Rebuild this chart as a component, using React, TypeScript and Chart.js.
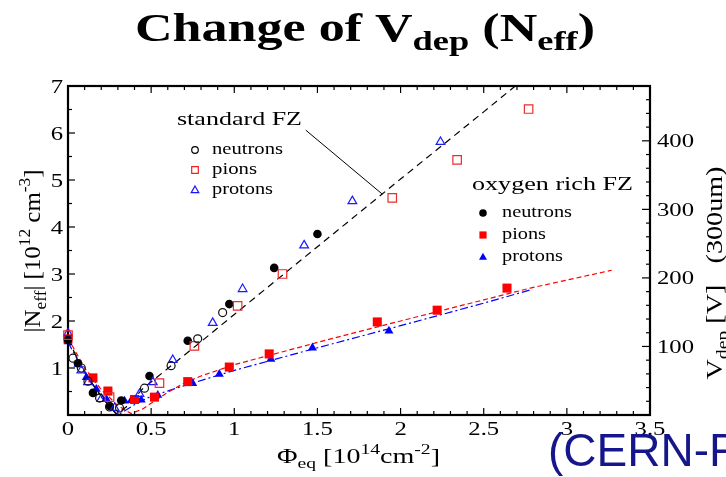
import React, { useEffect, useRef } from 'react';
import { Chart, registerables } from 'chart.js';

Chart.register(...registerables);

const SERIF = '"Liberation Serif", "Times New Roman", serif';
const SANS = '"Liberation Sans", Arial, sans-serif';

// ---- data (Neff in 1e12 cm^-3 vs fluence in 1e14 cm^-2) ----
// standard FZ (open symbols)
const stdNeutronX = [0.03, 0.08, 0.12, 0.19, 0.25, 0.31, 0.46, 0.62, 0.78, 0.93];
const stdNeutronY = [1.21, 1.0, 0.72, 0.36, 0.17, 0.15, 0.57, 1.05, 1.62, 2.18];
const stdPionX = [0, 0.25, 0.55, 0.76, 1.02, 1.29, 1.95, 2.34, 2.77];
const stdPionY = [1.7, 0.38, 0.68, 1.47, 2.32, 3.0, 4.62, 5.43, 6.51];
const stdProtonX = [0, 0.08, 0.12, 0.2, 0.28, 0.43, 0.51, 0.63, 0.87, 1.05, 1.42, 1.71, 2.24];
const stdProtonY = [1.74, 0.95, 0.7, 0.34, 0.15, 0.45, 0.7, 1.17, 1.96, 2.68, 3.61, 4.55, 5.81];
// oxygen rich FZ (filled symbols)
const oxyNeutronX = [0, 0.06, 0.15, 0.25, 0.32, 0.49, 0.72, 0.97, 1.24, 1.5];
const oxyNeutronY = [1.6, 1.1, 0.47, 0.19, 0.31, 0.83, 1.58, 2.36, 3.13, 3.85];
const oxyPionX = [0, 0.15, 0.24, 0.4, 0.52, 0.72, 0.97, 1.21, 1.86, 2.22, 2.64];
const oxyPionY = [1.62, 0.79, 0.51, 0.33, 0.38, 0.71, 1.02, 1.3, 1.98, 2.23, 2.7];
const oxyProtonX = [0, 0.06, 0.11, 0.17, 0.23, 0.34, 0.38, 0.44, 0.54, 0.75, 0.91, 1.22, 1.47, 1.93];
const oxyProtonY = [1.56, 1.08, 0.8, 0.55, 0.34, 0.3, 0.31, 0.32, 0.42, 0.67, 0.87, 1.19, 1.43, 1.79];
// fit curves
const stdFitX = [0, 0.05, 0.1, 0.15, 0.2, 0.25, 0.29, 0.35, 0.45, 0.6, 0.8, 1.0, 1.5, 2.0, 2.5, 2.69];
const stdFitY = [1.62, 1.25, 0.93, 0.65, 0.4, 0.18, 0.02, 0.17, 0.56, 0.99, 1.56, 2.14, 3.58, 5.02, 6.45, 7.0];
const pionFitX = [0, 0.1, 0.2, 0.3, 0.38, 0.45, 0.5, 0.6, 0.7, 0.8, 1.0, 1.58, 2.0, 2.5, 2.78, 3.27];
const pionFitY = [1.64, 1.0, 0.54, 0.2, 0.03, 0.13, 0.25, 0.48, 0.68, 0.83, 1.07, 1.62, 2.0, 2.45, 2.7, 3.08];
const protonFitX = [0, 0.1, 0.2, 0.3, 0.4, 0.5, 0.75, 1.0, 1.5, 2.0, 2.5, 2.78];
const protonFitY = [1.55, 0.9, 0.38, 0.0, 0.22, 0.4, 0.68, 0.95, 1.43, 1.9, 2.38, 2.66];

// axes
const X_MIN = 0, X_MAX = 3.5;
const Y_MIN = 0, Y_MAX = 7;
const V_MIN = 0, V_MAX = 480;
const xTickLabels = ['0', '0.5', '1', '1.5', '2', '2.5', '3', '3.5'];
const yTickLabels = ['1', '2', '3', '4', '5', '6', '7'];
const vTickLabels = ['100', '200', '300', '400'];

// annotation pointer for "standard FZ" (data coords)
const pointerFrom = { x: 1.43, y: 6.06 };
const pointerTo = { x: 1.89, y: 4.7 };

const zip = (xs: number[], ys: number[]) => xs.map((x, i) => ({ x, y: ys[i] }));

type Seg = { t: string; s?: 'sub' | 'sup' };

function drawRich(ctx: CanvasRenderingContext2D, segs: Seg[], o: any) {
  const size = o.size;
  const weight = o.weight || 'normal';
  const family = o.family || SERIF;
  const fontFor = (sg: Seg) => `${weight} ${sg.s ? size * 0.7 : size}px ${family}`;
  ctx.save();
  ctx.translate(o.x, o.y);
  if (o.rot) ctx.rotate(o.rot);
  let w = 0;
  const ws = segs.map((sg) => {
    ctx.font = fontFor(sg);
    const m = ctx.measureText(sg.t).width;
    w += m;
    return m;
  });
  const k = o.width ? o.width / w : o.sx || 1;
  ctx.scale(k, 1);
  let cx = o.align === 'center' ? -w / 2 : o.align === 'right' ? -w : 0;
  ctx.fillStyle = o.color || '#000';
  ctx.textAlign = 'left';
  ctx.textBaseline = 'alphabetic';
  segs.forEach((sg, i) => {
    ctx.font = fontFor(sg);
    const dy = sg.s === 'sub' ? size * (o.subDy || 0.25) : sg.s === 'sup' ? -size * 0.42 : 0;
    ctx.fillText(sg.t, cx, dy);
    cx += ws[i];
  });
  ctx.restore();
}

function symbol(ctx: CanvasRenderingContext2D, kind: string, x: number, y: number, r: number, color: string, filled: boolean) {
  ctx.save();
  ctx.beginPath();
  if (kind === 'circle') ctx.arc(x, y, r, 0, Math.PI * 2);
  else if (kind === 'rect') ctx.rect(x - r, y - r, 2 * r, 2 * r);
  else {
    ctx.moveTo(x, y - r * 1.1);
    ctx.lineTo(x + r * 1.05, y + r * 0.75);
    ctx.lineTo(x - r * 1.05, y + r * 0.75);
    ctx.closePath();
  }
  if (filled) {
    ctx.fillStyle = color;
    ctx.fill();
  } else {
    ctx.strokeStyle = color;
    ctx.lineWidth = 1.2;
    ctx.stroke();
  }
  ctx.restore();
}

const decor = {
  id: 'decor',
  beforeDatasetsDraw(chart: any) {
    const { ctx, chartArea: a, scales } = chart;
    const xs = scales.x, ys = scales.y, vs = scales.y2;
    ctx.save();
    ctx.strokeStyle = '#000';
    ctx.lineWidth = 1.2;
    const seg = (x1: number, y1: number, x2: number, y2: number) => {
      ctx.beginPath();
      ctx.moveTo(x1, y1);
      ctx.lineTo(x2, y2);
      ctx.stroke();
    };
    for (let i = 0; i <= 35; i++) {
      const px = xs.getPixelForValue(i / 10);
      const L = i % 5 === 0 ? 7 : 4;
      seg(px, a.bottom, px, a.bottom - L);
      seg(px, a.top, px, a.top + L);
    }
    for (let i = 0; i <= 14; i++) {
      const py = ys.getPixelForValue(i / 2);
      const L = i % 2 === 0 ? 7 : 4;
      seg(a.left, py, a.left + L, py);
    }
    for (let v = 0; v <= 480; v += 20) {
      const py = vs.getPixelForValue(v);
      const L = v % 100 === 0 ? 8 : 4;
      seg(a.right, py, a.right - L, py);
    }
    ctx.lineWidth = 2.2;
    ctx.strokeRect(a.left, a.top, a.right - a.left, a.bottom - a.top);
    // pointer line
    ctx.lineWidth = 1;
    seg(xs.getPixelForValue(pointerFrom.x), ys.getPixelForValue(pointerFrom.y), xs.getPixelForValue(pointerTo.x), ys.getPixelForValue(pointerTo.y));
    ctx.restore();
  },
  afterDraw(chart: any) {
    const { ctx, chartArea: a, scales } = chart;
    const xs = scales.x, ys = scales.y, vs = scales.y2;
    // tick labels
    xTickLabels.forEach((l) => {
      drawRich(ctx, [{ t: l }], { x: xs.getPixelForValue(parseFloat(l)), y: a.bottom + 20, size: 19, sx: 1.3, align: 'center' });
    });
    yTickLabels.forEach((l) => {
      drawRich(ctx, [{ t: l }], { x: a.left - 5, y: ys.getPixelForValue(parseFloat(l)) + 6.5, size: 19, sx: 1.3, align: 'right' });
    });
    vTickLabels.forEach((l) => {
      drawRich(ctx, [{ t: l }], { x: a.right + 7, y: vs.getPixelForValue(parseFloat(l)) + 6.5, size: 19, sx: 1.3, align: 'left' });
    });
    // title
    drawRich(ctx, [{ t: 'Change of V' }, { t: 'dep', s: 'sub' }, { t: ' (N' }, { t: 'eff', s: 'sub' }, { t: ')' }], {
      x: 135, y: 41, size: 40, weight: 'bold', width: 460, subDy: 0.22,
    });
    // axis titles
    drawRich(ctx, [{ t: 'Φ' }, { t: 'eq', s: 'sub' }, { t: ' [10' }, { t: '14', s: 'sup' }, { t: 'cm' }, { t: '-2', s: 'sup' }, { t: ']' }], {
      x: 277, y: 463, size: 21, width: 163,
    });
    drawRich(ctx, [{ t: '|N' }, { t: 'eff', s: 'sub' }, { t: '| [10' }, { t: '12', s: 'sup' }, { t: ' cm' }, { t: '-3', s: 'sup' }, { t: ']' }], {
      x: 40, y: 251, size: 24, width: 163, align: 'center', rot: -Math.PI / 2,
    });
    drawRich(ctx, [{ t: 'V' }, { t: 'dep', s: 'sub' }, { t: ' [V]   (300um)' }], {
      x: 722, y: 273, size: 24, width: 213, align: 'center', rot: -Math.PI / 2,
    });
    // legend blocks
    drawRich(ctx, [{ t: 'standard FZ' }], { x: 177, y: 125, size: 19, width: 125 });
    symbol(ctx, 'circle', 195, 150, 3.3, '#000', false);
    symbol(ctx, 'rect', 195, 170, 3.3, '#ee2222', false);
    symbol(ctx, 'tri', 195, 190, 3.6, '#1515ff', false);
    drawRich(ctx, [{ t: 'neutrons' }], { x: 212, y: 154, size: 17, width: 71 });
    drawRich(ctx, [{ t: 'pions' }], { x: 212, y: 174, size: 17, width: 45 });
    drawRich(ctx, [{ t: 'protons' }], { x: 212, y: 194, size: 17, width: 61 });

    drawRich(ctx, [{ t: 'oxygen rich FZ' }], { x: 472, y: 190, size: 19, width: 161 });
    symbol(ctx, 'circle', 483, 213, 3.8, '#000', true);
    symbol(ctx, 'rect', 483, 235, 3.6, '#ff0000', true);
    symbol(ctx, 'tri', 483, 257, 3.8, '#0000ff', true);
    drawRich(ctx, [{ t: 'neutrons' }], { x: 502, y: 217, size: 17, width: 70 });
    drawRich(ctx, [{ t: 'pions' }], { x: 502, y: 239, size: 17, width: 44 });
    drawRich(ctx, [{ t: 'protons' }], { x: 502, y: 261, size: 17, width: 61 });

    // source tag
    ctx.save();
    ctx.font = `normal 46px ${SANS}`;
    ctx.fillStyle = '#16168c';
    ctx.textAlign = 'left';
    ctx.textBaseline = 'alphabetic';
    ctx.fillText('(CERN-RD48)', 548, 466);
    ctx.restore();
  },
};

export default function App() {
  const ref = useRef<HTMLCanvasElement | null>(null);
  useEffect(() => {
    if (!ref.current) return;
    const pts = (label: string, xs: number[], ys: number[], style: string, color: string, filled: boolean, r: number) => ({
      label,
      data: zip(xs, ys),
      pointStyle: style,
      pointRadius: r,
      pointBorderWidth: filled ? 0 : 1.2,
      pointBackgroundColor: filled ? color : 'rgba(0,0,0,0)',
      pointBorderColor: color,
      showLine: false,
      clip: false,
      order: 0,
    });
    const fit = (label: string, xs: number[], ys: number[], color: string, dash: number[]) => ({
      label,
      data: zip(xs, ys),
      showLine: true,
      pointRadius: 0,
      borderColor: color,
      borderWidth: 1.2,
      borderDash: dash,
      tension: 0,
      fill: false,
      order: 5,
    });
    const chart = new Chart(ref.current, {
      type: 'scatter',
      data: {
        datasets: [
          pts('std neutrons', stdNeutronX, stdNeutronY, 'circle', '#111', false, 4),
          pts('std pions', stdPionX, stdPionY, 'rect', '#ee2a2a', false, 6),
          pts('std protons', stdProtonX, stdProtonY, 'triangle', '#1a1aff', false, 5),
          pts('oxy neutrons', oxyNeutronX, oxyNeutronY, 'circle', '#000', true, 4.3),
          pts('oxy pions', oxyPionX, oxyPionY, 'rect', '#ff0000', true, 6.4),
          pts('oxy protons', oxyProtonX, oxyProtonY, 'triangle', '#0000ff', true, 5.2),
          fit('std fit', stdFitX, stdFitY, '#000', [7, 5]),
          fit('pion fit', pionFitX, pionFitY, '#ff0000', [5, 3]),
          fit('proton fit', protonFitX, protonFitY, '#0000ff', [8, 3, 2, 3]),
        ] as any,
      },
      options: {
        animation: false,
        responsive: false,
        devicePixelRatio: 1,
        events: [],
        layout: { padding: { left: 68, right: 76, top: 86, bottom: 62 } },
        plugins: { legend: { display: false }, tooltip: { enabled: false } },
        scales: {
          x: { type: 'linear', min: X_MIN, max: X_MAX, display: false },
          y: { type: 'linear', min: Y_MIN, max: Y_MAX, display: false },
          y2: { type: 'linear', position: 'right', min: V_MIN, max: V_MAX, display: false },
        },
      } as any,
      plugins: [decor],
    });
    return () => chart.destroy();
  }, []);
  return (
    <div style={{ position: 'fixed', left: 0, top: 0, width: 726, height: 477, background: '#fff', overflow: 'hidden' }}>
      <canvas ref={ref} width={726} height={477} style={{ display: 'block' }} />
    </div>
  );
}
